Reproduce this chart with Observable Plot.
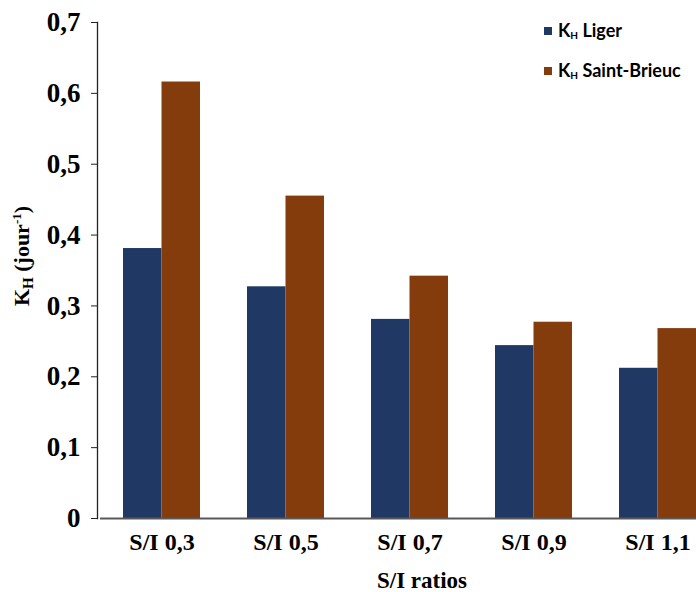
<!DOCTYPE html>
<html><head><meta charset="utf-8">
<script src="https://cdn.jsdelivr.net/npm/d3@7"></script>
<script src="https://cdn.jsdelivr.net/npm/@observablehq/plot@0.6"></script>
<style>body{margin:0;background:#fff}</style>
</head><body><div id="chart"></div>
<script>
const categories = ["S/I 0,3", "S/I 0,5", "S/I 0,7", "S/I 0,9", "S/I 1,1"];
const ligerValues = [0.381, 0.327, 0.281, 0.244, 0.212];
const saintBrieucValues = [0.616, 0.455, 0.342, 0.277, 0.268];
const yTicks = [0, 0.1, 0.2, 0.3, 0.4, 0.5, 0.6, 0.7];
const seriesNames = ["Liger", "Saint-Brieuc"];
const seriesColors = ["#203864", "#843C0C"];

const ligerData = categories.map((c, i) => ({cat: c, value: ligerValues[i]}));
const sbData = categories.map((c, i) => ({cat: c, value: saintBrieucValues[i]}));

const W = 696, H = 592;
const serif = "'Liberation Serif', 'Times New Roman', serif";
const plot = Plot.plot({
  width: W, height: H,
  marginLeft: 97, marginRight: 0, marginTop: 22, marginBottom: 74,
  style: {fontFamily: serif, fontWeight: "bold", fontSize: "24px", color: "#000", background: "#fff"},
  x: {domain: categories, range: [99, 719], paddingInner: 0.38, paddingOuter: 0.19},
  y: {domain: [0, 0.7]},
  marks: [
    Plot.barY(ligerData, {x: "cat", y: "value", fill: seriesColors[0], insetLeft: 0, insetRight: 38.5}),
    Plot.barY(sbData, {x: "cat", y: "value", fill: seriesColors[1], insetLeft: 38.5, insetRight: 0}),
    Plot.ruleY([0], {stroke: "#595959", strokeWidth: 1.8, insetLeft: 3}),
    Plot.frame({anchor: "left", stroke: "#222", strokeWidth: 1.3}),
    Plot.axisY({ticks: yTicks, tickSize: 6, tickPadding: 11, stroke: "#222", fontSize: 27,
      tickFormat: d => d === 0 ? "0" : d.toFixed(1).replace(".", ","), label: null}),
    Plot.axisX({tickSize: 0, tickPadding: 14, label: null})
  ]
});
document.getElementById("chart").appendChild(plot);

const svg = d3.select(plot);
// X axis title
svg.append("text")
  .attr("x", 422).attr("y", 588)
  .attr("text-anchor", "middle")
  .attr("font-family", serif).attr("font-weight", "bold").attr("font-size", 23).attr("fill", "#000")
  .text("S/I ratios");

// Y axis title with subscript/superscript
const yl = svg.append("text")
  .attr("transform", "translate(29,256) rotate(-90)")
  .attr("text-anchor", "middle")
  .attr("font-family", serif)
  .attr("font-weight", "bold").attr("font-size", 22).attr("fill", "#000");
yl.append("tspan").text("K");
yl.append("tspan").attr("font-size", 15).attr("dy", 4).text("H");
yl.append("tspan").attr("dy", -4).text(" (jour");
yl.append("tspan").attr("font-size", 13).attr("dy", -8).text("-1");
yl.append("tspan").attr("dy", 8).text(")");

// Legend
const legend = svg.append("g")
  .attr("font-family", "Lato, 'Open Sans', sans-serif")
  .attr("font-weight", "bold").attr("fill", "#000").attr("text-anchor", "start");
const legendY = [31, 71];
seriesNames.forEach((name, i) => {
  const g = legend.append("g").attr("transform", `translate(544,${legendY[i]})`);
  g.append("rect").attr("x", 0).attr("y", -4).attr("width", 8).attr("height", 8).attr("fill", seriesColors[i]);
  const t = g.append("text").attr("x", 14).attr("y", 6).attr("font-size", 18).attr("text-anchor", "start");
  t.append("tspan").text("K");
  t.append("tspan").attr("font-size", 10).attr("dy", 2).text("H");
  t.append("tspan").attr("dy", -2).text(" " + name);
});
</script>
</body></html>
